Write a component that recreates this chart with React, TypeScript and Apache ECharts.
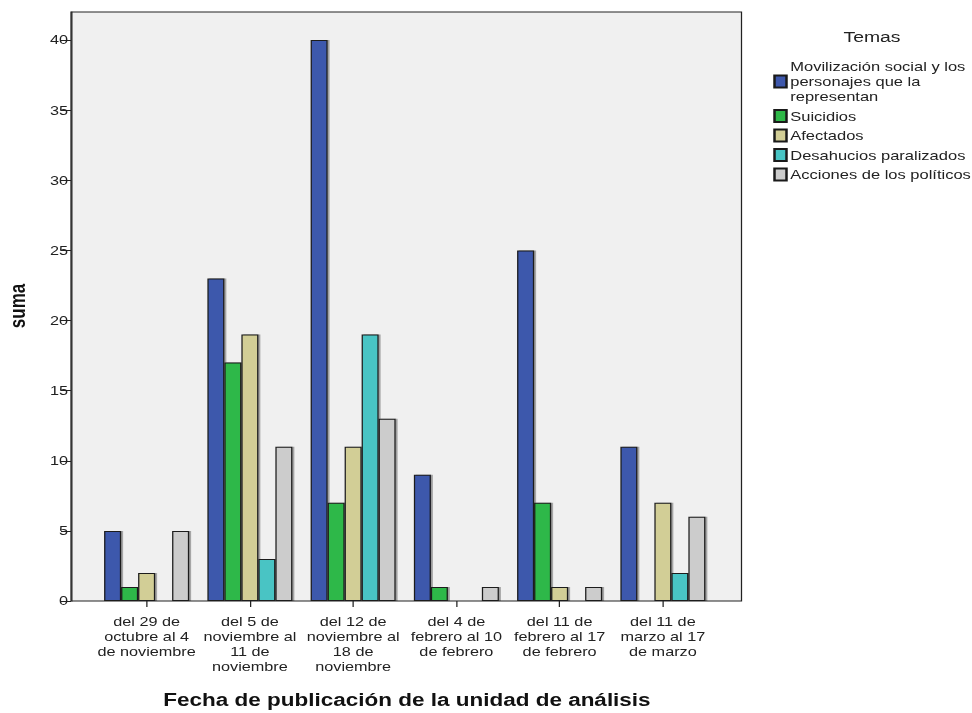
import React, { useEffect, useRef } from "react";
import * as echarts from "echarts";

const categories = [
  "del 29 de\noctubre al 4\nde noviembre",
  "del 5 de\nnoviembre al\n11 de\nnoviembre",
  "del 12 de\nnoviembre al\n18 de\nnoviembre",
  "del 4 de\nfebrero al 10\nde febrero",
  "del 11 de\nfebrero al 17\nde febrero",
  "del 11 de\nmarzo al 17\nde marzo",
];

const seriesNames = [
  "Movilización social y los personajes que la representan",
  "Suicidios",
  "Afectados",
  "Desahucios paralizados",
  "Acciones de los políticos",
];

const movilizacion = [5, 23, 40, 9, 25, 11];
const suicidios = [1, 17, 7, 1, 7, null];
const afectados = [2, 19, 11, null, 1, 7];
const desahucios = [null, 3, 19, null, null, 2];
const acciones = [5, 11, 13, 1, 1, 6];

const seriesValues = [movilizacion, suicidios, afectados, desahucios, acciones];
const colors = ["#3E58AC", "#2EB848", "#D2CE96", "#48C4C4", "#CCCCCC"];

const yTicks = [0, 5, 10, 15, 20, 25, 30, 35, 40];

const FONT = "'Liberation Sans', Arial, sans-serif";

// The reference picture is horizontally stretched; the chart is drawn in a
// narrower box and stretched by SX.
const SX = 1.25;
const W = 972 / SX;
const sx = (v: number) => v / SX;

export default function App() {
  const ref = useRef<HTMLDivElement>(null);
  useEffect(() => {
    if (!ref.current) return;
    const chart = echarts.init(ref.current, undefined, { renderer: "svg" });
    const option: any = {
      animation: false,
      backgroundColor: "#ffffff",
      textStyle: { fontFamily: FONT },
      grid: [
        {
          left: sx(71),
          right: W - sx(741),
          top: 12,
          bottom: 112,
          show: true,
          backgroundColor: "#F0F0F0",
          borderColor: "#222",
          borderWidth: 1,
        },
        {
          left: sx(95),
          right: W - sx(714),
          top: 12,
          bottom: 112,
        },
      ],
      xAxis: [
        {
          gridIndex: 0,
          type: "value",
          min: 0,
          max: 1,
          show: false,
        },
        {
          gridIndex: 1,
          type: "category",
          data: categories,
          axisLine: { show: false },
          axisTick: {
            show: true,
            alignWithLabel: true,
            length: 6,
            lineStyle: { color: "#222", width: 1 },
          },
          axisLabel: {
            color: "#222",
            fontSize: 13,
            lineHeight: 15,
            margin: 13,
            fontFamily: FONT,
            interval: 0,
          },
          splitLine: { show: false },
        },
      ],
      yAxis: [
        {
          gridIndex: 0,
          type: "value",
          min: 0,
          max: 42,
          axisLine: { show: true, lineStyle: { color: "#222" } },
          axisTick: {
            show: true,
            length: sx(10),
            customValues: yTicks,
            lineStyle: { color: "#222" },
          },
          axisLabel: {
            customValues: yTicks,
            color: "#222",
            fontSize: 13,
            margin: sx(3),
            fontFamily: FONT,
          },
          splitLine: { show: false },
        },
        {
          gridIndex: 1,
          type: "value",
          min: 0,
          max: 42,
          show: false,
          splitLine: { show: false },
        },
      ],
      legend: {
        orient: "vertical",
        left: sx(767),
        top: 54,
        itemWidth: sx(12),
        itemHeight: 12,
        itemGap: 4.5,
        icon: "rect",
        selectedMode: false,
        formatter: (name: string) =>
          name === seriesNames[0]
            ? "Movilización social y los\npersonajes que la\nrepresentan"
            : name,
        textStyle: {
          color: "#222",
          fontSize: 13.2,
          lineHeight: 15,
          padding: [0, 0, 0, -2],
          fontFamily: FONT,
        },
        data: seriesNames,
      },
      graphic: [
        {
          type: "text",
          x: sx(872),
          y: 37,
          style: {
            text: "Temas",
            fontSize: 15.5,
            fill: "#222",
            align: "center",
            verticalAlign: "middle",
            fontFamily: FONT,
          },
        },
        {
          type: "text",
          x: sx(18),
          y: 306,
          rotation: Math.PI / 2,
          style: {
            text: "suma",
            fontSize: 17,
            fontWeight: "bold",
            fill: "#111",
            align: "center",
            verticalAlign: "middle",
            fontFamily: FONT,
          },
        },
        {
          type: "text",
          x: sx(407),
          y: 700,
          style: {
            text: "Fecha de publicación de la unidad de análisis",
            fontSize: 18,
            fontWeight: "bold",
            fill: "#111",
            align: "center",
            verticalAlign: "middle",
            fontFamily: FONT,
          },
        },
      ],
      series: seriesNames.map((name, i) => ({
        name,
        type: "bar",
        xAxisIndex: 1,
        yAxisIndex: 1,
        barWidth: sx(17),
        barGap: "0%",
        data: seriesValues[i],
        itemStyle: {
          color: colors[i],
          borderColor: "#1a1a1a",
          borderWidth: 1,
          shadowColor: "rgba(0,0,0,0.35)",
          shadowOffsetX: 1.5,
          shadowBlur: 1,
        },
      })),
    };
    chart.setOption(option);
    return () => chart.dispose();
  }, []);
  return (
    <div
      ref={ref}
      style={{
        position: "fixed",
        left: 0,
        top: 0,
        width: W,
        height: 713,
        transform: `scaleX(${SX})`,
        transformOrigin: "0 0",
      }}
    />
  );
}
